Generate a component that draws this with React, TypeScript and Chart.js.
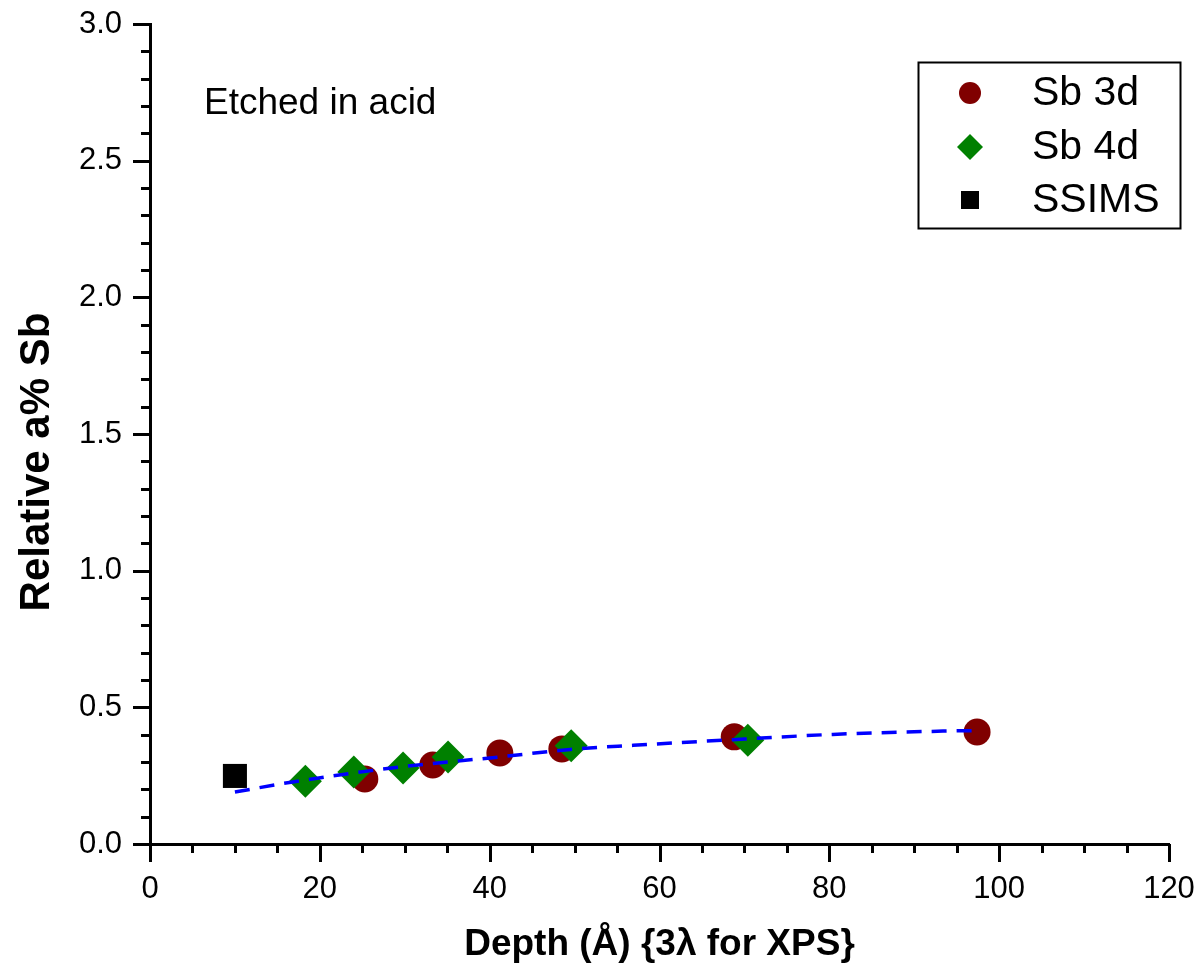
import React, { useEffect, useRef } from 'react';
import { Chart, registerables } from 'chart.js';

Chart.register(...registerables);

// ---- data ----
const sb3dDepth = [25.3, 33.3, 41.2, 48.5, 68.8, 97.4];
const sb3dValue = [0.238, 0.289, 0.333, 0.348, 0.392, 0.41];

const sb4dDepth = [18.3, 24.0, 29.8, 35.1, 49.6, 70.4];
const sb4dValue = [0.23, 0.263, 0.278, 0.318, 0.359, 0.38];

const ssimsDepth = [10.0];
const ssimsValue = [0.249];

const fitDepth = [10, 16.8, 29.8, 41, 49.5, 56.9, 70, 80.4, 93.4, 97.4];
const fitValue = [0.19, 0.227, 0.283, 0.318, 0.346, 0.361, 0.384, 0.401, 0.413, 0.415];

const seriesNames = ['Sb 3d', 'Sb 4d', 'SSIMS'];
const xTitle = 'Depth (Å) {3λ for XPS}';
const yTitle = 'Relative a% Sb';
const annotation = 'Etched in acid';

const xMin = 0, xMax = 120, xMajor = 20, xMinor = 5;
const yMin = 0, yMax = 3, yMajor = 0.5, yMinor = 0.1;

const FONT = '"Liberation Sans", Arial, Helvetica, sans-serif';

const toPts = (xs: number[], ys: number[]) => xs.map((x, i) => ({ x, y: ys[i] }));
const isMult = (v: number, m: number) => Math.abs(v / m - Math.round(v / m)) < 1e-6;

const zeroPad = (s: any) => {
  s.paddingTop = 0;
  s.paddingBottom = 0;
  s.paddingLeft = 0;
  s.paddingRight = 0;
};

const decorPlugin = {
  id: 'decor',
  afterDraw(chart: any) {
    const ctx = chart.ctx as CanvasRenderingContext2D;
    const { chartArea } = chart;
    const xs = chart.scales.x;
    const ys = chart.scales.y;
    ctx.save();
    ctx.strokeStyle = '#000';
    ctx.lineWidth = 3;
    ctx.lineCap = 'butt';
    // x ticks (outward, down)
    xs.ticks.forEach((t: any) => {
      const px = Math.round(xs.getPixelForValue(t.value)) + 0.5;
      const len = isMult(t.value, xMajor) ? 18 : 9;
      ctx.beginPath();
      ctx.moveTo(px, chartArea.bottom);
      ctx.lineTo(px, chartArea.bottom + len);
      ctx.stroke();
    });
    // y ticks (outward, left)
    ys.ticks.forEach((t: any) => {
      const py = Math.round(ys.getPixelForValue(t.value)) + 0.5;
      const len = isMult(t.value, yMajor) ? 17 : 9;
      ctx.beginPath();
      ctx.moveTo(chartArea.left, py);
      ctx.lineTo(chartArea.left - len, py);
      ctx.stroke();
    });

    // y title
    ctx.fillStyle = '#000';
    ctx.font = `bold 42px ${FONT}`;
    ctx.textAlign = 'center';
    ctx.textBaseline = 'middle';
    ctx.translate(37, 462);
    ctx.rotate(-Math.PI / 2);
    ctx.fillText(yTitle, 0, 0);
    ctx.setTransform(1, 0, 0, 1, 0, 0);

    // annotation
    ctx.font = `37px ${FONT}`;
    ctx.textAlign = 'left';
    ctx.textBaseline = 'middle';
    ctx.fillText(annotation, 204, 104);

    // legend
    const bx = 918, by = 62, bw = 262, bh = 166;
    ctx.fillStyle = '#fff';
    ctx.fillRect(bx, by, bw, bh);
    ctx.lineWidth = 2;
    ctx.strokeStyle = '#000';
    ctx.strokeRect(bx + 0.5, by + 0.5, bw, bh);
    const rows = [93, 147, 200];
    const mx = 970;
    ctx.font = `41px ${FONT}`;
    ctx.textBaseline = 'middle';
    rows.forEach((ry, i) => {
      ctx.beginPath();
      if (i === 0) {
        ctx.fillStyle = '#800000';
        ctx.arc(mx, ry, 11, 0, Math.PI * 2);
      } else if (i === 1) {
        ctx.fillStyle = '#008000';
        ctx.moveTo(mx - 13, ry);
        ctx.lineTo(mx, ry - 13);
        ctx.lineTo(mx + 13, ry);
        ctx.lineTo(mx, ry + 13);
        ctx.closePath();
      } else {
        ctx.fillStyle = '#000';
        ctx.rect(mx - 9, ry - 9, 18, 18);
      }
      ctx.fill();
      ctx.fillStyle = '#000';
      ctx.fillText(seriesNames[i], 1032, ry + 1);
    });
    ctx.restore();
  },
};

export default function App() {
  const ref = useRef<HTMLCanvasElement>(null);
  useEffect(() => {
    document.body.style.margin = '0';
    const canvas = ref.current!;
    const chart = new Chart(canvas, {
      type: 'scatter',
      data: {
        datasets: [
          {
            label: 'fit',
            data: toPts(fitDepth, fitValue),
            showLine: true,
            borderColor: '#0000ff',
            borderWidth: 3.5,
            borderDash: [15, 10],
            pointRadius: 0,
            cubicInterpolationMode: 'monotone',
            order: 0,
          },
          {
            label: seriesNames[1],
            data: toPts(sb4dDepth, sb4dValue),
            pointStyle: 'rectRot',
            pointRadius: 16.5,
            backgroundColor: '#008000',
            borderColor: '#008000',
            borderWidth: 0,
            order: 1,
          },
          {
            label: seriesNames[0],
            data: toPts(sb3dDepth, sb3dValue),
            pointStyle: 'circle',
            pointRadius: 13.5,
            backgroundColor: '#800000',
            borderColor: '#800000',
            borderWidth: 0,
            order: 2,
          },
          {
            label: seriesNames[2],
            data: toPts(ssimsDepth, ssimsValue),
            pointStyle: 'rect',
            pointRadius: 17,
            backgroundColor: '#000',
            borderColor: '#000',
            borderWidth: 0,
            order: 3,
          },
        ],
      } as any,
      options: {
        responsive: false,
        animation: false,
        devicePixelRatio: 1,
        layout: { padding: { top: 24, right: 32, left: 0, bottom: 0 } },
        plugins: {
          legend: { display: false },
          tooltip: { enabled: false },
        },
        scales: {
          x: {
            type: 'linear',
            min: xMin,
            max: xMax,
            grid: { display: false, drawTicks: false },
            border: { display: true, color: '#000', width: 3 },
            ticks: {
              stepSize: xMinor,
              autoSkip: false,
              maxRotation: 0,
              padding: 27,
              color: '#000',
              font: { family: FONT, size: 31 },
              callback: (v: any) => (isMult(Number(v), xMajor) ? String(Math.round(Number(v))) : ''),
            },
            title: {
              display: true,
              text: xTitle,
              color: '#000',
              font: { family: FONT, size: 37, weight: 'bold' },
              padding: { top: 0, bottom: 3 },
            },
            afterFit: (s: any) => { s.height = 126; zeroPad(s); },
          },
          y: {
            type: 'linear',
            min: yMin,
            max: yMax,
            grid: { display: false, drawTicks: false },
            border: { display: true, color: '#000', width: 3 },
            ticks: {
              stepSize: yMinor,
              autoSkip: false,
              padding: 28,
              color: '#000',
              font: { family: FONT, size: 31 },
              callback: (v: any) => (isMult(Number(v), yMajor) ? Number(v).toFixed(1) : ''),
            },
            afterFit: (s: any) => { s.width = 150; zeroPad(s); },
          },
        },
      } as any,
      plugins: [decorPlugin],
    });
    return () => chart.destroy();
  }, []);
  return (
    <div style={{ width: 1201, height: 970 }}>
      <canvas ref={ref} width={1201} height={970} style={{ display: 'block' }} />
    </div>
  );
}
